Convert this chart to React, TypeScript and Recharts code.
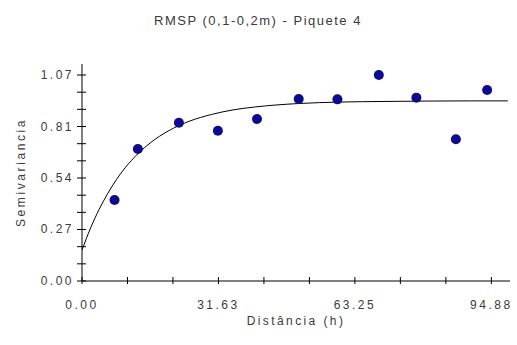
import React from "react";
import { ComposedChart, Line, Scatter, XAxis, YAxis, Label } from "recharts";

// experimental semivariogram points
const lagValues = [7.54, 12.95, 22.46, 31.5, 40.56, 50.23, 59.2, 68.8, 77.5, 86.66, 93.9];
const semivarValues = [0.423, 0.689, 0.826, 0.784, 0.845, 0.95, 0.948, 1.075, 0.957, 0.74, 0.997];

// fitted model curve
const modelLags = [0, 2, 4, 6, 8, 10, 13, 16, 20, 25, 30, 35, 40, 50, 60, 70, 80, 90, 98.7];
const modelValues = [0.162, 0.277, 0.375, 0.458, 0.53, 0.591, 0.665, 0.724, 0.783, 0.835, 0.869, 0.893, 0.908, 0.926, 0.934, 0.937, 0.939, 0.94, 0.94];

const xTicks = [0, 10.54, 21.08, 31.63, 42.17, 52.71, 63.25, 73.79, 84.34, 94.88];
const xTickLabels = ["0.00", "", "", "31.63", "", "", "63.25", "", "", "94.88"];
const yTicks = [0, 0.0896, 0.1792, 0.2688, 0.3583, 0.4479, 0.5375, 0.6271, 0.7167, 0.8063, 0.8958, 0.9854, 1.075];
const yTickLabels = ["0.00", "", "", "0.27", "", "", "0.54", "", "", "0.81", "", "", "1.07"];

const points = lagValues.map((x, i) => ({ x, y: semivarValues[i] }));
const curve = modelLags.map((x, i) => ({ x, y: modelValues[i] }));

const font = "'Liberation Sans', Arial, sans-serif";
const textColor = "#3a3a3a";

function XTick({ x, y, payload, index }: any) {
  const label = xTickLabels[index] ?? "";
  return (
    <g>
      <line x1={x} x2={x} y1={y - 4} y2={y + 3} stroke="#000" />
      {label && (
        <text x={x} y={y + 28} textAnchor="middle" fontSize={12} fill={textColor} style={{ letterSpacing: 2.5, fontFamily: font }}>
          {label}
        </text>
      )}
    </g>
  );
}

function YTick({ x, y, index }: any) {
  const label = yTickLabels[index] ?? "";
  return (
    <g>
      <line x1={x - 5} x2={x + 4} y1={y} y2={y} stroke="#000" />
      {label && (
        <text x={x - 8} y={y + 4} textAnchor="end" fontSize={12} fill={textColor} style={{ letterSpacing: 2.5, fontFamily: font }}>
          {label}
        </text>
      )}
    </g>
  );
}

export default function App() {
  return (
    <div style={{ position: "absolute", left: 0, top: 0, width: 517, height: 345, background: "#fff" }}>
      <svg width={517} height={345} style={{ position: "absolute", left: 0, top: 0, pointerEvents: "none" }}>
        <text x={258} y={25} textAnchor="middle" fontSize={13} fill={textColor} style={{ letterSpacing: 1.5, fontFamily: font }}>
          RMSP (0,1-0,2m) - Piquete 4
        </text>
      </svg>
      <ComposedChart width={517} height={345} margin={{ top: 64, right: 7, bottom: 24, left: 22 }} style={{ position: "absolute", left: 0, top: 0 }}>
        <XAxis
          type="number"
          dataKey="x"
          domain={[0, 99.2]}
          ticks={xTicks}
          interval={0}
          tickSize={0}
          tickMargin={0}
          tickLine={false}
          tick={<XTick />}
          axisLine={{ stroke: "#000" }}
          height={40}
          allowDataOverflow
        >
          <Label value="Distância (h)" position="insideBottom" offset={-4} style={{ fontSize: 12, fill: textColor, letterSpacing: 2.4, fontFamily: font }} />
        </XAxis>
        <YAxis
          type="number"
          dataKey="y"
          domain={[0, 1.1325]}
          ticks={yTicks}
          interval={0}
          tickSize={0}
          tickMargin={0}
          tickLine={false}
          tick={<YTick />}
          axisLine={{ stroke: "#000" }}
          width={60}
          allowDataOverflow
        >
          <Label value="Semivariancia" angle={-90} position="insideLeft" offset={-1} style={{ fontSize: 12, fill: textColor, letterSpacing: 2.6, fontFamily: font, textAnchor: "middle" }} />
        </YAxis>
        <Line data={curve} dataKey="y" type="monotone" stroke="#000" strokeWidth={1} dot={false} isAnimationActive={false} />
        <Scatter data={points} dataKey="y" fill="#0b0b8c" isAnimationActive={false} shape={(p: any) => <circle cx={p.cx} cy={p.cy} r={5} fill="#0b0b8c" />} />
      </ComposedChart>
    </div>
  );
}
